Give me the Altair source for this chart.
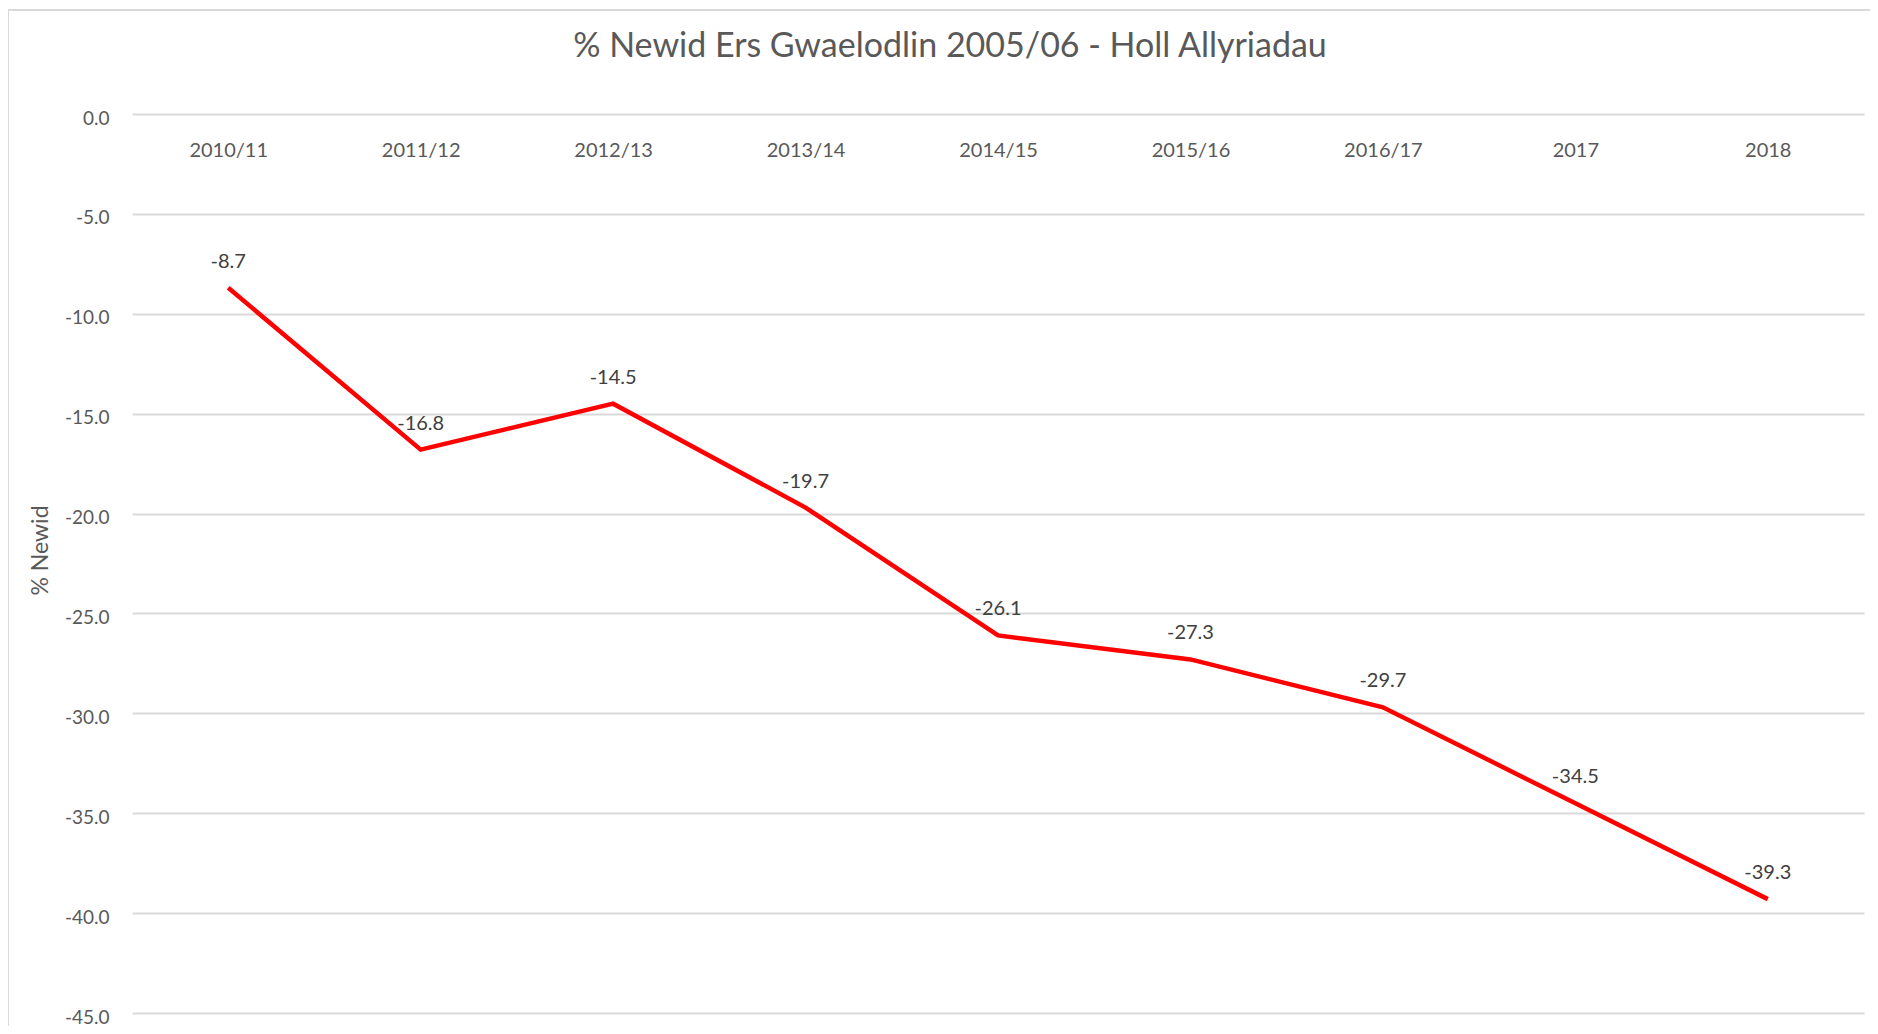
import altair as alt
import pandas as pd

categories = ["2010/11", "2011/12", "2012/13", "2013/14", "2014/15", "2015/16", "2016/17", "2017", "2018"]
values = [-8.7, -16.8, -14.5, -19.7, -26.1, -27.3, -29.7, -34.5, -39.3]
y_ticks = [0, -5, -10, -15, -20, -25, -30, -35, -40, -45]

df = pd.DataFrame({"cat": categories, "val": values})
df["lab"] = [f"{v:.1f}" for v in values]

FONT = "Lato"
GRAY = "#595959"
W, H = 1732, 899

x_enc = alt.X("cat:N", sort=categories, title=None,
              axis=alt.Axis(orient="top", domain=False, ticks=False, grid=False,
                            labelAngle=0, labelPadding=-42, labelFontSize=20,
                            labelColor=GRAY, labelFont=FONT, labelBaseline="alphabetic"))
y_enc = alt.Y("val:Q", title="% Newid",
              scale=alt.Scale(domain=[-45, 0], nice=False, zero=False),
              axis=alt.Axis(values=y_ticks, domain=False, ticks=False,
                            labelExpr="replace(format(datum.value, '.1f'), '\u2212', '-')",
                            gridColor="#d9d9d9", gridWidth=2, labelFontSize=19,
                            labelColor=GRAY, labelFont=FONT, labelPadding=23, labelOffset=4,
                            titleFont=FONT, titleFontSize=23, titleColor=GRAY,
                            titleFontWeight="normal", titlePadding=12, titleY=436))

frame = alt.Chart(pd.DataFrame({"a": [0]})).mark_rect(
    fill=None, stroke="#d9d9d9", strokeWidth=2
).encode(x=alt.value(-124), x2=alt.value(W + 40), y=alt.value(-104), y2=alt.value(H + 60))

line = alt.Chart(df).mark_line(color="#ff0000", strokeWidth=4.5).encode(x=x_enc, y=y_enc)

labels = alt.Chart(df).mark_text(dy=-26, fontSize=20, font=FONT, color="#404040").encode(
    x=alt.X("cat:N", sort=categories),
    y=alt.Y("val:Q"),
    text=alt.Text("lab:N"),
)

chart = alt.layer(frame, line, labels).properties(
    width=W, height=H,
    background="white",
    title=alt.TitleParams("% Newid Ers Gwaelodlin 2005/06 - Holl Allyriadau",
                          font=FONT, fontSize=34, fontWeight="normal", color=GRAY,
                          anchor="middle", frame="group", offset=0, dy=82, dx=-48,
                          baseline="alphabetic"),
    autosize=alt.AutoSizeParams(type="none"),
    padding={"left": 124, "top": 106, "right": 6, "bottom": 13},
).configure_view(stroke=None)

chart.save("out.html", embed_options={"renderer": "svg", "actions": False})
